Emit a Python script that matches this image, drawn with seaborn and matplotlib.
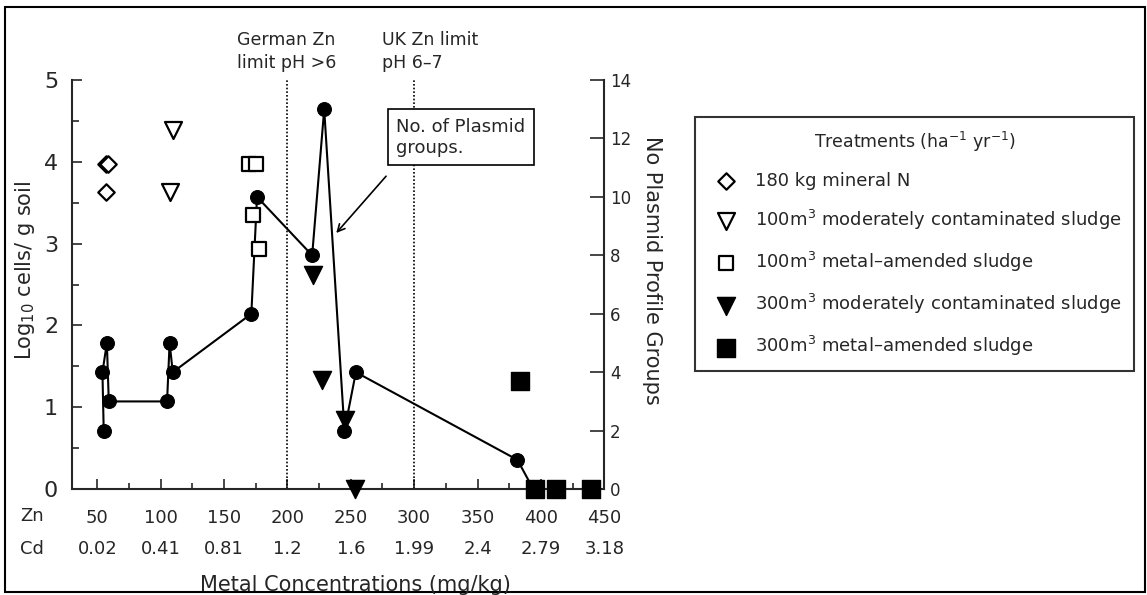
import matplotlib
matplotlib.use("Agg")
import matplotlib.pyplot as plt
from matplotlib.patches import Rectangle
from matplotlib.ticker import MultipleLocator
import seaborn as sns

# Zn tick values and matching Cd concentrations (mg/kg)
zn_ticks = [50, 100, 150, 200, 250, 300, 350, 400, 450]
cd_labels = ["0.02", "0.41", "0.81", "1.2", "1.6", "1.99", "2.4", "2.79", "3.18"]

# No. of plasmid profile groups (right axis), in plotting order
plasmid_zn = [55, 54, 57.5, 59, 105, 107, 109.5, 171.5, 176, 219.5, 229, 245, 254, 381.5, 394]
plasmid_groups = [2, 4, 5, 3, 3, 5, 4, 6, 10, 8, 13, 2, 4, 1, 0]

# Log10 cells / g soil for each treatment (left axis)
mineraln_zn = [56.5, 58.5, 57]
mineraln_log = [3.97, 3.97, 3.63]
mod100_zn = [110, 107.5]
mod100_log = [4.39, 3.63]
metal100_zn = [170, 175, 172.5, 177.5]
metal100_log = [3.97, 3.97, 3.35, 2.94]
mod300_zn = [220, 227.5, 245.5, 253.5]
mod300_log = [2.62, 1.33, 0.84, 0.0]
metal300_zn = [383.5, 395, 412, 439.5]
metal300_log = [1.32, 0.0, 0.0, 0.0]

# Zn limits
limits_zn = [200, 300]

sns.set_style("ticks")
plt.rcParams["font.family"] = ["DejaVu Sans"]

fig = plt.figure(figsize=(11.47, 5.95), dpi=100)
ax = fig.add_axes([0.0628, 0.178, 0.464, 0.6875])
ax2 = ax.twinx()

# treatments
kw_open = dict(color="white", edgecolor="black", linewidth=1.6, clip_on=False, zorder=4)
kw_fill = dict(color="black", edgecolor="black", linewidth=1, clip_on=False, zorder=4)
sns.scatterplot(x=mineraln_zn, y=mineraln_log, marker="D", s=70, ax=ax,
                label="180 kg mineral N", **kw_open)
sns.scatterplot(x=mod100_zn, y=mod100_log, marker="v", s=150, ax=ax,
                label="100m$^3$ moderately contaminated sludge", **kw_open)
sns.scatterplot(x=metal100_zn, y=metal100_log, marker="s", s=90, ax=ax,
                label="100m$^3$ metal\u2013amended sludge", **kw_open)
sns.scatterplot(x=mod300_zn, y=mod300_log, marker="v", s=170, ax=ax,
                label="300m$^3$ moderately contaminated sludge", **kw_fill)
sns.scatterplot(x=metal300_zn, y=metal300_log, marker="s", s=150, ax=ax,
                label="300m$^3$ metal\u2013amended sludge", **kw_fill)

# plasmid groups line
sns.lineplot(x=plasmid_zn, y=plasmid_groups, sort=False, estimator=None, ax=ax2,
             color="black", linewidth=1.5, marker="o", markersize=10,
             markeredgecolor="black", clip_on=False, zorder=3)

for z in limits_zn:
    ax.axvline(z, ymin=0, ymax=1, color="black", linestyle=(0, (1, 1.2)), linewidth=1.2, zorder=1)

ax.set_xlim(30, 450)
ax.set_ylim(0, 5)
ax2.set_ylim(0, 14)
ax.set_zorder(ax2.get_zorder() + 1)
ax.patch.set_visible(False)

ax.set_xticks(zn_ticks)
ax.set_xticklabels([str(z) for z in zn_ticks])
ax.xaxis.set_minor_locator(MultipleLocator(25))
ax.yaxis.set_major_locator(MultipleLocator(1))
ax.yaxis.set_minor_locator(MultipleLocator(0.5))
ax2.yaxis.set_major_locator(MultipleLocator(2))

ax.tick_params(axis="x", which="major", direction="in", length=7, width=1.2, pad=14, labelsize=13)
ax.tick_params(axis="x", which="minor", direction="in", length=4, width=1.2)
ax.tick_params(axis="y", which="major", direction="in", length=7, width=1.2, pad=10, labelsize=16)
ax.tick_params(axis="y", which="minor", direction="in", length=5, width=1.2)
ax2.tick_params(axis="y", direction="in", length=10, width=1.2, pad=4, labelsize=12)

for sp in ["left", "bottom"]:
    ax.spines[sp].set_linewidth(1.5)
ax.spines["top"].set_visible(False)
ax.spines["right"].set_visible(False)
ax2.spines["top"].set_visible(False)
ax2.spines["left"].set_visible(False)
ax2.spines["bottom"].set_visible(False)
ax2.spines["right"].set_linewidth(1.5)

# Cd row under Zn labels
for z, cd in zip(zn_ticks, cd_labels):
    ax.annotate(cd, xy=(z, 0), xycoords=("data", "axes fraction"), xytext=(0, -43),
                textcoords="offset points", ha="center", va="center", fontsize=13,
                annotation_clip=False)
fig.text(32 / 1147, 1 - 516 / 595, "Zn", ha="center", va="center", fontsize=13)
fig.text(32 / 1147, 1 - 549 / 595, "Cd", ha="center", va="center", fontsize=13)
fig.text(355 / 1147, 1 - 585 / 595, "Metal Concentrations (mg/kg)", ha="center", va="center",
         fontsize=15)

ax.set_ylabel("Log$_{10}$ cells/ g soil", fontsize=15, va="center")
ax.yaxis.set_label_coords(-0.088, 0.535)
ax2.set_ylabel("No Plasmid Profile Groups", fontsize=15, rotation=270, va="center")
ax2.yaxis.set_label_coords(1.09, 0.535)

# limit labels
ax.text(160, 5.1, "German Zn\nlimit pH >6", ha="left", va="bottom", fontsize=12.5, clip_on=False,
        linespacing=1.35)
ax.text(275, 5.1, "UK Zn limit\npH 6\u20137", ha="left", va="bottom", fontsize=12.5, clip_on=False,
        linespacing=1.35)

ax.annotate("No. of Plasmid\ngroups.", xy=(238.5, 3.13), xytext=(286, 4.3),
            fontsize=13, ha="left", va="center", zorder=6, linespacing=1.25,
            bbox=dict(boxstyle="square,pad=0.45", fc="white", ec="black", lw=1.2),
            arrowprops=dict(arrowstyle="->", color="black", lw=1.2, shrinkA=10, shrinkB=0,
                            relpos=(0.05, 0)))

h, l = ax.get_legend_handles_labels()
ax.get_legend().remove()
leg = fig.legend(h, l, loc="upper left", bbox_to_anchor=(695 / 1147, 1 - 117 / 595),
                 title="Treatments (ha$^{-1}$ yr$^{-1}$)", fontsize=13, title_fontsize=12.5,
                 frameon=True, fancybox=False, edgecolor="black", labelspacing=1.0,
                 borderpad=0.7, handletextpad=0.6, borderaxespad=0)
leg.get_frame().set_linewidth(1.5)
if ax2.get_legend():
    ax2.get_legend().remove()

fig.patches.append(Rectangle((5 / 1147, 3 / 595), 1140 / 1147, 585 / 595, fill=False,
                             ec="black", lw=1.5, transform=fig.transFigure))

fig.savefig("out.png", dpi=100)
